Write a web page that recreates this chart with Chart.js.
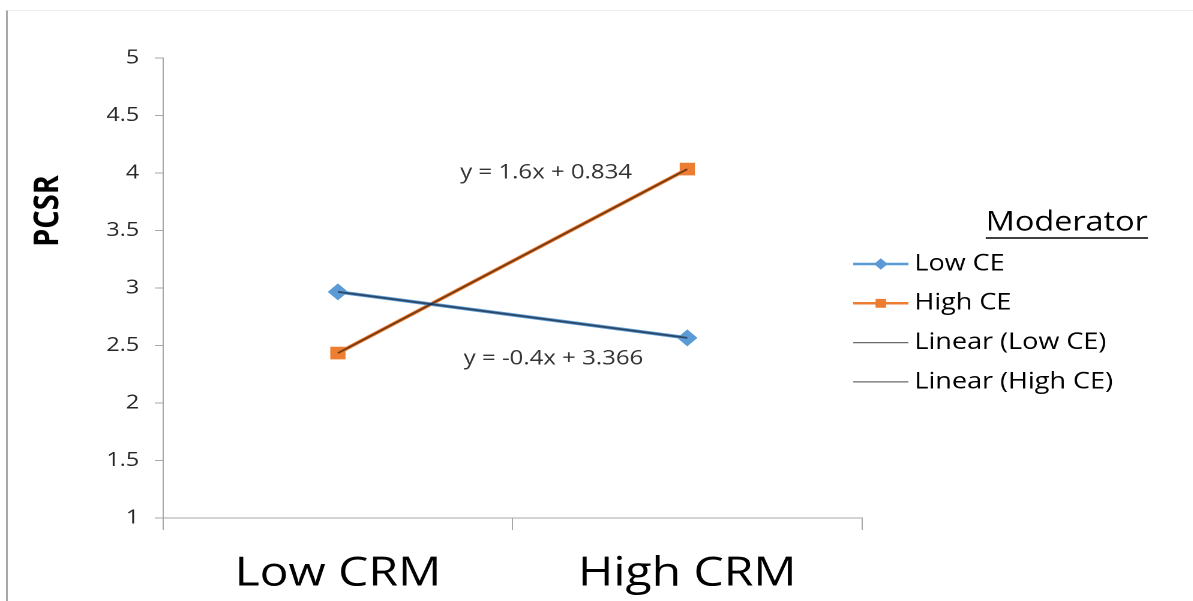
<!DOCTYPE html>
<html>
<head>
<meta charset="utf-8">
<script src="https://cdn.jsdelivr.net/npm/chart.js@4.4.1/dist/chart.umd.min.js"></script>
<style>
    html, body { margin: 0; padding: 0; background: #fff; overflow: hidden; }
    #frame {
        position: absolute; left: 6px; top: 10px; width: 1187px; height: 591px;
        border-left: 2px solid #a8a8a8; border-top: 1px solid #f0f0f0;
    }
    /* the source picture is stretched sideways, so the chart is drawn narrow and stretched */
    #wrap {
        position: absolute; left: 0; top: 0; width: 994px; height: 601px;
        transform: scaleX(1.2); transform-origin: 0 0;
    }
</style>
</head>
<body>
<div id="frame"></div>
<div id="wrap"><canvas id="chart" width="994" height="601"></canvas></div>
<script>
// ===============================
// Data
// ===============================

const categories = ["Low CRM", "High CRM"];

const lowCE = [2.966, 2.566];
const highCE = [2.434, 4.034];

const trendLowCE = [2.966, 2.566];
const trendHighCE = [2.434, 4.034];

const equations = ["y = 1.6x + 0.834", "y = -0.4x + 3.366"];

const yTicks = [1, 1.5, 2, 2.5, 3, 3.5, 4, 4.5, 5];

// ===============================
// Plugins
// ===============================

const FONT = "'Open Sans', sans-serif";

// equation labels sit at data coordinates (category index, value)
const equationLabels = {
    id: "equationLabels",
    afterDatasetsDraw(chart) {
        const ctx = chart.ctx;
        const x = chart.scales.x;
        const y = chart.scales.y;
        const spots = [[0.596, 4.0], [0.617, 2.383]];
        ctx.save();
        ctx.font = "20px " + FONT;
        ctx.fillStyle = "#333";
        ctx.textAlign = "center";
        ctx.textBaseline = "middle";
        equations.forEach(function(text, i){
            ctx.fillText(text, x.getPixelForValue(spots[i][0]), y.getPixelForValue(spots[i][1]));
        });
        ctx.restore();
    }
};

// y title placed off-centre like the original
const yTitle = {
    id: "yTitle",
    afterDraw(chart) {
        const ctx = chart.ctx;
        ctx.save();
        ctx.translate(40, 211);
        ctx.rotate(-Math.PI / 2);
        ctx.font = "bold 29px " + FONT;
        ctx.fillStyle = "#000";
        ctx.textAlign = "center";
        ctx.textBaseline = "middle";
        ctx.fillText("PCSR", 0, 0);
        ctx.restore();
    }
};

// legend with line + marker samples and underlined title
const sideLegend = {
    id: "sideLegend",
    afterDraw(chart) {
        const ctx = chart.ctx;
        const left = 711;
        const sampleW = 46;
        const top = 264;
        const step = 39.3;

        ctx.save();
        ctx.font = "27px " + FONT;
        ctx.fillStyle = "#000";
        ctx.textAlign = "center";
        ctx.textBaseline = "middle";
        ctx.fillText("Moderator", 889, 223);
        const w = ctx.measureText("Moderator").width;
        ctx.strokeStyle = "#000";
        ctx.lineWidth = 1.5;
        ctx.beginPath();
        ctx.moveTo(889 - w / 2, 238);
        ctx.lineTo(889 + w / 2, 238);
        ctx.stroke();

        ctx.font = "22.5px " + FONT;
        ctx.textAlign = "left";
        chart.data.datasets.forEach(function(ds, i){
            const yy = top + i * step;
            ctx.strokeStyle = ds.legendColor || ds.borderColor;
            ctx.lineWidth = ds.legendWidth || ds.borderWidth;
            ctx.beginPath();
            ctx.moveTo(left, yy);
            ctx.lineTo(left + sampleW, yy);
            ctx.stroke();
            if (ds.pointRadius > 0) {
                ctx.fillStyle = ds.pointBackgroundColor;
                ctx.strokeStyle = ds.pointBorderColor;
                ctx.lineWidth = 1;
                Chart.helpers.drawPoint(ctx, {
                    pointStyle: ds.pointStyle,
                    radius: ds.pointRadius - 1,
                    borderWidth: 1
                }, left + sampleW / 2, yy);
            }
            ctx.fillStyle = "#000";
            ctx.fillText(ds.label, left + sampleW + 5, yy);
        });
        ctx.restore();
    }
};

// ===============================
// Chart
// ===============================

new Chart(document.getElementById("chart"), {

    type: "line",

    data: {
        labels: categories,
        datasets: [
            {
                label: "Low CE",
                data: lowCE,
                borderColor: "#5B9BD5",
                borderWidth: 3.5,
                pointStyle: "rectRot",
                pointRadius: 6,
                pointBackgroundColor: "#5B9BD5",
                pointBorderColor: "#5B9BD5",
                legendWidth: 2.5,
                order: 1
            },
            {
                label: "High CE",
                data: highCE,
                borderColor: "#ED7D31",
                borderWidth: 3.5,
                pointStyle: "rect",
                pointRadius: 6.5,
                pointBackgroundColor: "#ED7D31",
                pointBorderColor: "#ED7D31",
                legendWidth: 2.5,
                order: 1
            },
            {
                label: "Linear (Low CE)",
                data: trendLowCE,
                borderColor: "rgba(20,25,40,0.65)",
                borderWidth: 1.8,
                pointRadius: 0,
                legendColor: "#6b6b6b",
                legendWidth: 1.3,
                order: 0
            },
            {
                label: "Linear (High CE)",
                data: trendHighCE,
                borderColor: "rgba(40,15,0,0.6)",
                borderWidth: 1.8,
                pointRadius: 0,
                legendColor: "#6b6b6b",
                legendWidth: 1.3,
                order: 0
            }
        ]
    },

    options: {
        responsive: false,
        animation: false,
        devicePixelRatio: 2,
        layout: {
            padding: { left: 0, top: 58, right: 275.7, bottom: 0 }
        },
        plugins: {
            legend: { display: false },
            tooltip: { enabled: false }
        },
        scales: {
            x: {
                offset: true,
                afterFit: function(scale){ scale.height = 83; },
                grid: {
                    offset: true,
                    drawOnChartArea: false,
                    drawTicks: true,
                    tickLength: 12,
                    color: "#a6a6a6"
                },
                border: { color: "#a6a6a6", width: 1 },
                ticks: {
                    color: "#000",
                    padding: 20,
                    font: { family: FONT, size: 40 }
                }
            },
            y: {
                min: 1,
                max: 5,
                afterFit: function(scale){ scale.width = 136; },
                afterBuildTicks: function(scale){
                    scale.ticks = yTicks.map(function(v){ return { value: v }; });
                },
                grid: {
                    drawOnChartArea: false,
                    drawTicks: true,
                    tickLength: 7,
                    color: "#a6a6a6"
                },
                border: { color: "#a6a6a6", width: 1 },
                ticks: {
                    color: "#262626",
                    padding: 13,
                    font: { family: FONT, size: 19.5 },
                    callback: function(value){ return String(value); }
                }
            }
        }
    },

    plugins: [equationLabels, yTitle, sideLegend]

});
</script>
</body>
</html>
